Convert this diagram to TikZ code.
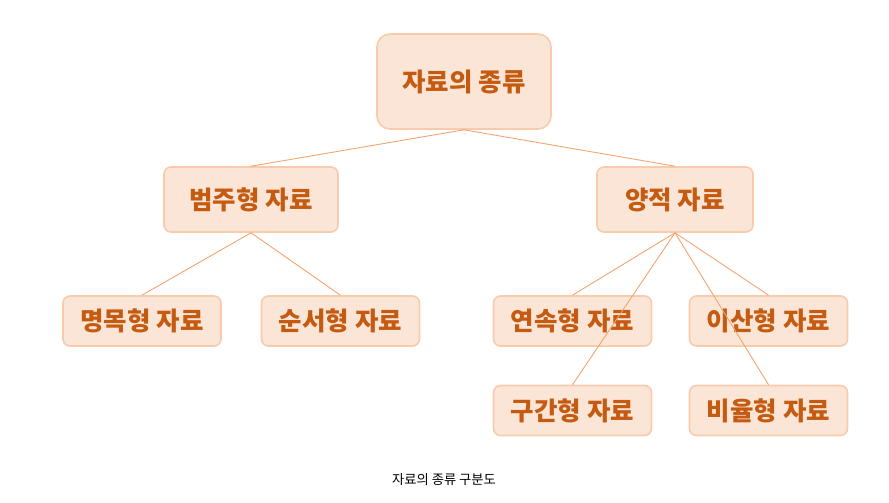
\documentclass[tikz,border=0pt]{standalone}
\usepackage{fontspec}
\setmainfont{Noto Sans CJK KR}
\usepackage{tikz}
\usetikzlibrary{positioning}

\definecolor{boxfill}{HTML}{FBE5D6}
\definecolor{boxline}{HTML}{F8CBAD}
\definecolor{boxtext}{HTML}{C55A11}
\definecolor{linkline}{HTML}{F4A46E}

\begin{document}
\begin{tikzpicture}[x=1pt, y=-1pt,
	basebox/.style={rectangle, rounded corners=7pt, draw=boxline, fill=boxfill, line width=1.6pt, text=boxtext, font=\fontsize{25.5}{30}\selectfont\bfseries, inner sep=0pt},
	rootbox/.style={basebox, rounded corners=13pt, minimum width=174pt, minimum height=95pt},
	midbox/.style={basebox, minimum height=65pt},
	leafbox/.style={basebox, minimum width=158pt, minimum height=50pt},
	link/.style={draw=linkline, line width=0.9pt},
	]
	\useasboundingbox (0,0) rectangle (889,503);
	
	%Nodes
	\node[rootbox] (Root) at (464,81.5) {자료의 종류};
	\node[midbox, minimum width=174pt] (Categorical) at (251,199.5) {범주형 자료};
	\node[midbox, minimum width=156pt] (Quantitative) at (675,199.5) {양적 자료};
	\node[leafbox] (Nominal) at (142,321) {명목형 자료};
	\node[leafbox] (Ordinal) at (340.5,321) {순서형 자료};
	\node[leafbox] (Continuous) at (572.5,321) {연속형 자료};
	\node[leafbox] (Discrete) at (768.5,321) {이산형 자료};
	\node[leafbox] (Interval) at (572.5,410.5) {구간형 자료};
	\node[leafbox] (Ratio) at (768.5,410.5) {비율형 자료};
	\node[font=\fontsize{13.3}{16}\selectfont] (Caption) at (444,480) {자료의 종류 구분도};
	
	%Lines
	\draw[link] (Root.south) -- (Categorical.north);
	\draw[link] (Root.south) -- (Quantitative.north);
	\draw[link] (Categorical.south) -- (Nominal.north);
	\draw[link] (Categorical.south) -- (Ordinal.north);
	\draw[link] (Quantitative.south) -- (Continuous.north);
	\draw[link] (Quantitative.south) -- (Discrete.north);
	\draw[link] (Quantitative.south) -- (Interval.north);
	\draw[link] (Quantitative.south) -- (Ratio.north);
	
\end{tikzpicture}
\end{document}
